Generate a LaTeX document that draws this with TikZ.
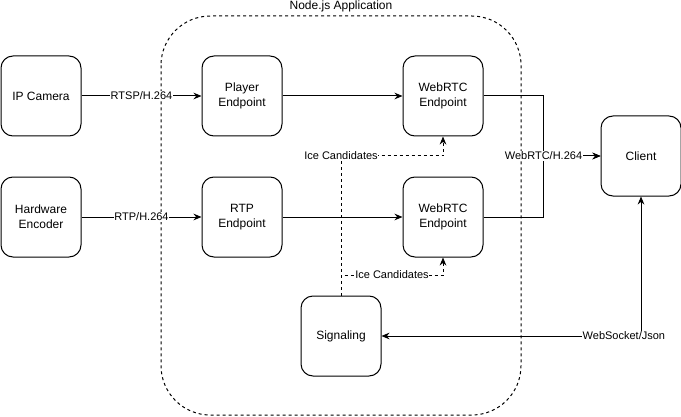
\documentclass[tikz,border=0pt]{standalone}
\usepackage{fontspec}
\setmainfont{Liberation Sans}
\usetikzlibrary{arrows.meta,positioning,calc}
\tikzset{
  blk/.style={draw,rectangle,rounded corners=9pt,minimum width=60pt,minimum height=60pt,line width=0.75pt,align=center,font=\fontsize{9}{11}\selectfont,inner sep=1pt},
  grpbox/.style={draw,dashed,dash pattern=on 2.25pt off 2.25pt,rounded corners=37pt,line width=0.75pt},
  arr/.style={-{Stealth[length=6pt,width=5pt]},line width=0.75pt},
  biarr/.style={{Stealth[length=6pt,width=5pt]}-{Stealth[length=6pt,width=5pt]},line width=0.75pt},
  dasharr/.style={arr,dash pattern=on 2.25pt off 2.25pt},
  lbl/.style={fill=white,inner sep=0.6pt,font=\fontsize{8.25}{10}\selectfont}
}
\begin{document}
\begin{tikzpicture}[x=0.75pt,y=-0.75pt,node distance=30pt and 90pt]
  \useasboundingbox (0,0) rectangle (681,417);
  % application frame
  \draw[grpbox] (161,16) rectangle (521,415);
  \node[font=\fontsize{9}{11}\selectfont] (app) at (341,6) {Node.js Application};

  \node[blk] (cam) at (41,96) {IP Camera};
  \node[blk, below=of cam] (enc) {Hardware\\Encoder};
  \node[blk, right=of cam] (player) {Player\\Endpoint};
  \node[blk, right=of enc] (rtp) {RTP\\Endpoint};
  \node[blk, right=of player] (rtcA) {WebRTC\\Endpoint};
  \node[blk, right=of rtp] (rtcB) {WebRTC\\Endpoint};
  \node[blk] (client) at (641,156) {Client};
  \node[blk] (sig) at (341,336) {Signaling};

  \draw[arr] (cam)--(player) node[midway,lbl]{RTSP/H.264};
  \draw[arr] (enc)--(rtp) node[midway,lbl]{RTP/H.264};
  \draw[arr] (player)--(rtcA);
  \draw[arr] (rtp)--(rtcB);
  \draw[arr] (rtcA.east) -- ++(60,0) |- (client.west);
  \draw[arr] (rtcB.east) -- ++(60,0) |- node[lbl,pos=0.5]{WebRTC/H.264} (client.west);
  \draw[dasharr] (sig.north) |- node[lbl,pos=0.5]{Ice Candidates} (rtcA.south |- client.west) -- (rtcA.south);
  \draw[dasharr] (sig.north) -- ++(0,-20.5) -| node[lbl,pos=0.25]{Ice Candidates} (rtcB.south);
  \draw[biarr] (client.south) |- node[lbl,pos=0.533]{WebSocket/Json} (sig.east);
\end{tikzpicture}
\end{document}
